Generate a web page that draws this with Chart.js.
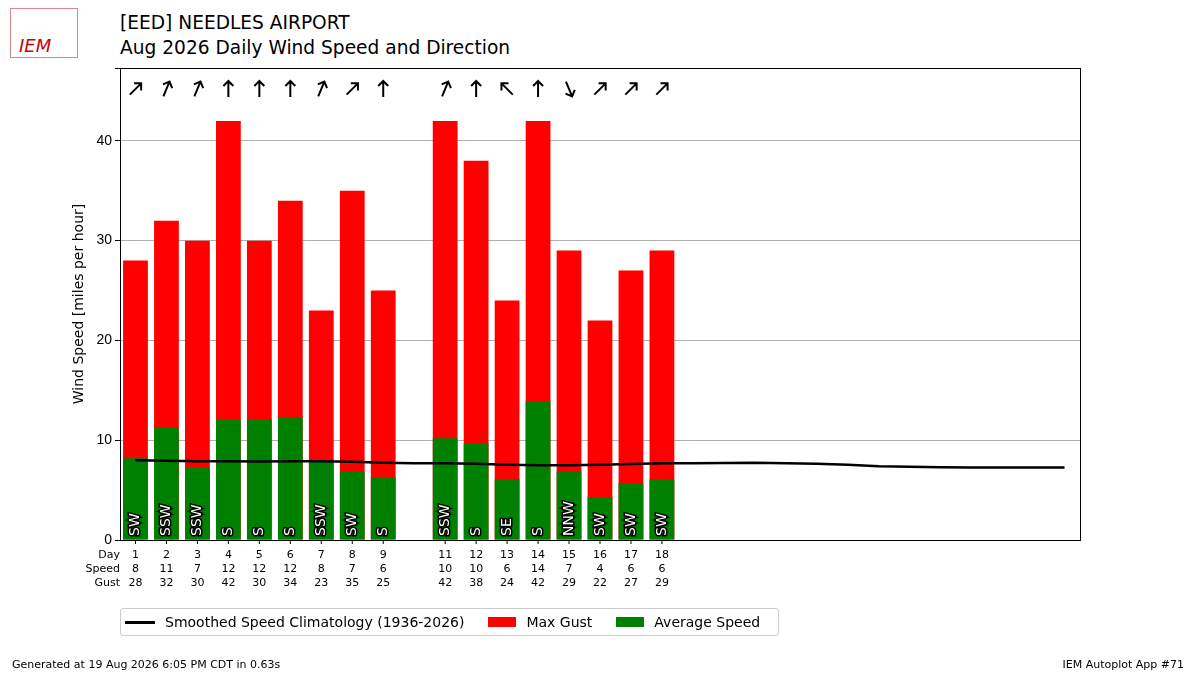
<!doctype html>
<html lang="en">
<head>
<meta charset="utf-8">
<title>Daily Wind</title>
<style>
  * { margin: 0; padding: 0; font-family: "DejaVu Sans", sans-serif; }
  body { width: 1200px; height: 675px; position: relative; background: #fff; overflow: hidden; }
  #c { position: absolute; left: 0; top: 0; }
  .t { position: absolute; left: 120px; font-size: 18.6px; color: #000; white-space: nowrap; }
  .foot { position: absolute; top: 658px; font-size: 11px; }
  .legend { position: absolute; left: 120px; top: 608px; width: 657px; height: 26px; border: 1px solid #ccc; border-radius: 3px; font-size: 14px; display: flex; align-items: center; white-space: nowrap; }
  .legend span { display: inline-flex; align-items: center; margin-left: 4px; margin-right: 20px; white-space: nowrap; }
  .logo { position: absolute; left: 10px; top: 8px; width: 66px; height: 48px; border: 1px solid #d88; color: #c00; font: italic 18px "DejaVu Serif", serif; }
</style>
</head>
<body>
<div class="logo"><span style="position:absolute;left:8px;top:26px">IEM</span></div>
<div class="t" style="top:12px">[EED] NEEDLES AIRPORT</div>
<div class="t" style="top:37px">Aug 2026 Daily Wind Speed and Direction</div>
<canvas id="c" width="1200" height="675"></canvas>
<div class="legend">
  <span><i style="display:inline-block;width:30px;height:3px;background:#000;margin-right:10px"></i>Smoothed Speed Climatology (1936-2026)</span>
  <span><i style="display:inline-block;width:28px;height:10px;background:#f00;margin-right:10px"></i>Max Gust</span>
  <span><i style="display:inline-block;width:28px;height:10px;background:#008000;margin-right:10px"></i>Average Speed</span>
</div>
<div class="foot" style="left:12px">Generated at 19 Aug 2026 6:05 PM CDT in 0.63s</div>
<div class="foot" style="right:16px">IEM Autoplot App #71</div>
<script src="https://cdn.jsdelivr.net/npm/chart.js"></script>
<script>
const days = ['1','2','3','4','5','6','7','8','9','10','11','12','13','14','15','16','17','18','19','20','21','22','23','24','25','26','27','28','29','30','31'];
const avgSpeed = [8.2, 11.3, 7.3, 12.1, 12.1, 12.3, 8.0, 6.9, 6.3, null, 10.2, 9.7, 6.1, 13.9, 6.9, 4.3, 5.7, 6.1];
const gust = [28, 32, 30, 42, 30, 34, 23, 35, 25, null, 42, 38, 24, 42, 29, 22, 27, 29];
const speedLabel = [8, 11, 7, 12, 12, 12, 8, 7, 6, null, 10, 10, 6, 14, 7, 4, 6, 6];
const dirText = ['SW','SSW','SSW','S','S','S','SSW','SW','S',null,'SSW','S','SE','S','NNW','SW','SW','SW'];
const dirDeg = [225, 202.5, 202.5, 180, 180, 180, 202.5, 225, 180, null, 202.5, 180, 135, 180, 337.5, 225, 225, 225];
const climo = [8.0, 7.95, 7.9, 7.88, 7.87, 7.88, 7.9, 7.85, 7.75, 7.7, 7.7, 7.65, 7.55, 7.5, 7.5, 7.55, 7.62, 7.68, 7.68, 7.72, 7.75, 7.7, 7.65, 7.55, 7.4, 7.35, 7.3, 7.27, 7.27, 7.27, 7.27];

const overlay = {
  id: 'overlay',
  afterDatasetsDraw(chart) {
    const ctx = chart.ctx, x = chart.scales.x, y = chart.scales.y, a = chart.chartArea;
    ctx.save();
    // direction labels in bars
    ctx.font = '14px "DejaVu Sans"';
    ctx.textAlign = 'left'; ctx.textBaseline = 'middle';
    dirText.forEach((d, i) => {
      if (!d) return;
      ctx.save();
      ctx.translate(x.getPixelForValue(i), y.getPixelForValue(0) - 4);
      ctx.rotate(-Math.PI / 2);
      ctx.lineWidth = 3; ctx.strokeStyle = '#000'; ctx.strokeText(d, 0, 0);
      ctx.fillStyle = '#fff'; ctx.fillText(d, 0, 0);
      ctx.restore();
    });
    // arrows
    dirDeg.forEach((d, i) => {
      if (d === null) return;
      ctx.save();
      ctx.translate(x.getPixelForValue(i), 89);
      ctx.rotate((d + 180) * Math.PI / 180);
      ctx.strokeStyle = '#000'; ctx.lineWidth = 2;
      ctx.beginPath(); ctx.moveTo(0, 8); ctx.lineTo(0, -8);
      ctx.moveTo(-5, -3); ctx.lineTo(0, -8); ctx.lineTo(5, -3);
      ctx.stroke();
      ctx.restore();
    });
    // frame
    ctx.strokeStyle = '#000'; ctx.lineWidth = 1;
    ctx.strokeRect(a.left + 0.5, a.top + 0.5, a.right - a.left, a.bottom - a.top);
    // y axis title
    ctx.save();
    ctx.fillStyle = '#000'; ctx.font = '14px "DejaVu Sans"';
    ctx.textAlign = 'center'; ctx.textBaseline = 'middle';
    ctx.translate(79, (a.top + a.bottom) / 2);
    ctx.rotate(-Math.PI / 2);
    ctx.fillText('Wind Speed [miles per hour]', 0, 0);
    ctx.restore();
    // table under axis
    ctx.fillStyle = '#000'; ctx.font = '11px "DejaVu Sans"';
    ctx.textBaseline = 'middle';
    const rows = [555, 569, 583];
    ctx.textAlign = 'right';
    ['Day', 'Speed', 'Gust'].forEach((t, r) => ctx.fillText(t, a.left, rows[r]));
    ctx.textAlign = 'center';
    gust.forEach((g, i) => {
      if (g === null) return;
      const px = x.getPixelForValue(i);
      ctx.fillText(days[i], px, rows[0]);
      ctx.fillText(String(speedLabel[i]), px, rows[1]);
      ctx.fillText(String(g), px, rows[2]);
      ctx.beginPath(); ctx.moveTo(px, a.bottom); ctx.lineTo(px, a.bottom + 4); ctx.stroke();
    });
    ctx.restore();
  }
};

new Chart(document.getElementById('c'), {
  data: {
    labels: days,
    datasets: [
      { type: 'line', label: 'Smoothed Speed Climatology (1936-2026)', data: climo, borderColor: '#000', borderWidth: 2.5, pointRadius: 0, order: 0 },
      { type: 'bar', label: 'Average Speed', data: avgSpeed, backgroundColor: '#008000', borderWidth: 0, grouped: false, barPercentage: 0.8, categoryPercentage: 1, order: 1 },
      { type: 'bar', label: 'Max Gust', data: gust, backgroundColor: '#ff0000', borderWidth: 0, grouped: false, barPercentage: 0.8, categoryPercentage: 1, order: 2 }
    ]
  },
  options: {
    responsive: false, animation: false,
    layout: { padding: { left: 0, right: 120, top: 68, bottom: 135 } },
    plugins: { legend: { display: false }, tooltip: { enabled: false } },
    scales: {
      x: { grid: { display: false }, ticks: { display: false }, border: { display: false },
           afterFit(s) { s.height = 0; } },
      y: { min: 0, max: 47.3, border: { display: false },
           ticks: { stepSize: 10, color: '#000', font: { size: 14 }, callback: v => v % 10 === 0 ? v : '' },
           grid: { color: ctx => ctx.tick.value === 0 ? 'rgba(0,0,0,0)' : '#b0b0b0', tickColor: '#000', tickLength: 5 },
           afterFit(s) { s.width = 120; } }
    }
  },
  plugins: [overlay]
});
</script>
</body>
</html>
